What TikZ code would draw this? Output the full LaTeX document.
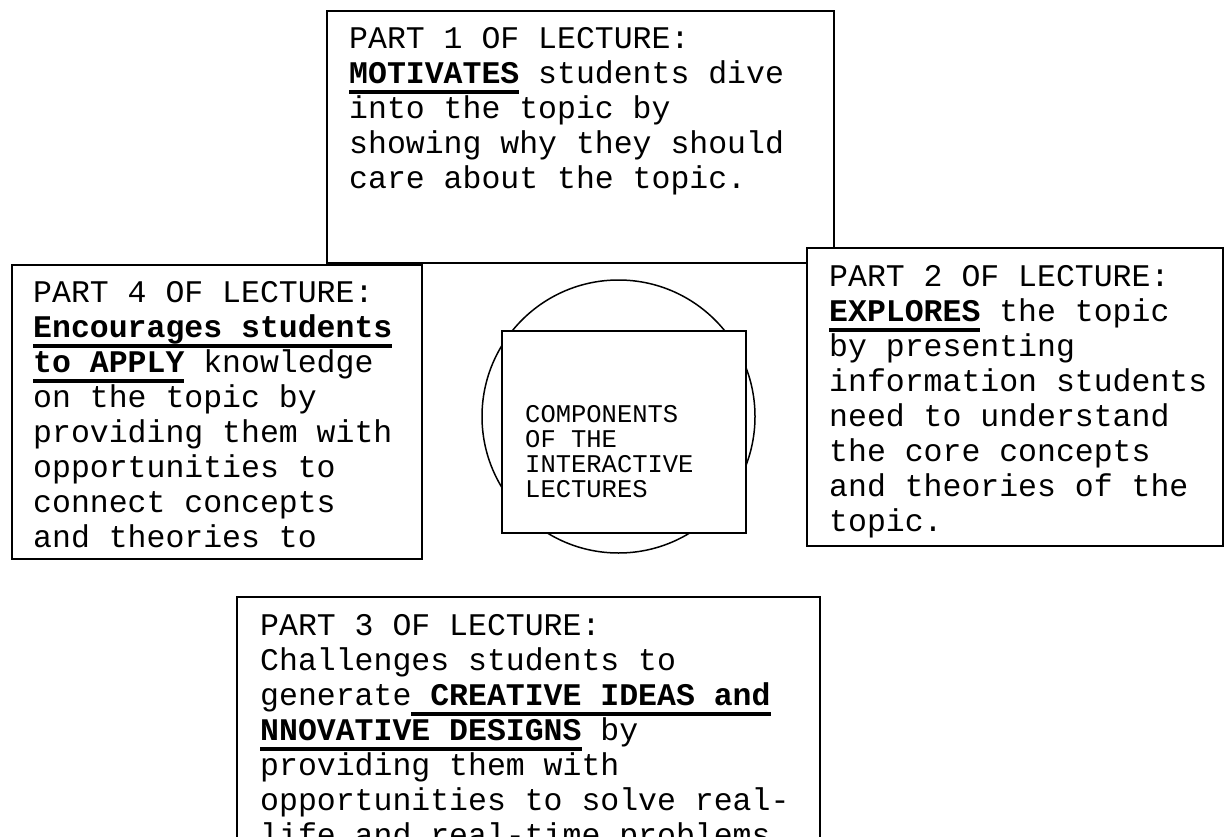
\documentclass[tikz,border=0pt]{standalone}
\usepackage{fontspec}
\setmonofont{Liberation Mono}
\usepackage{tikz}

\newsavebox{\ulbox}
\newcommand{\ulb}[1]{\sbox{\ulbox}{\bfseries #1}\rlap{\smash{\rule[-11pt]{\wd\ulbox}{4pt}}}\usebox{\ulbox}}

\begin{document}
\begin{tikzpicture}[x=1pt,y=-1pt,
  box/.style={draw,line width=1.5pt,fill=white,inner sep=0pt},
  txt/.style={anchor=north west,inner sep=0pt,align=left,font=\ttfamily\fontsize{31.5}{35}\selectfont},
  ctxt/.style={txt,font=\ttfamily\fontsize{25.5}{25}\selectfont}]

\useasboundingbox (0,0) rectangle (1225,837);
\clip (0,0) rectangle (1225,837);

\node[box,minimum width=507pt,minimum height=252pt] (part1) at (580.5,137) {};
\node[txt] (part1text) at (349,27) {PART 1 OF LECTURE:\\
\ulb{MOTIVATES} students dive\\
into the topic by\\
showing why they should\\
care about the topic.};

\node[box,minimum width=410pt,minimum height=294pt] (part4) at (217,412) {};
\node[txt] (part4text) at (33,281) {PART 4 OF LECTURE:\\
\ulb{Encourages students}\\
\ulb{to APPLY} knowledge\\
on the topic by\\
providing them with\\
opportunities to\\
connect concepts\\
and theories to};

\node[circle,draw,line width=1.5pt,inner sep=0pt,minimum size=273pt] (ring) at (618.5,416.5) {};
\node[box,minimum width=244pt,minimum height=202pt] (core) at (624,432) {};
\node[ctxt] (coretext) at (525,405) {COMPONENTS\\
OF THE\\
INTERACTIVE\\
LECTURES};

\node[box,minimum width=416pt,minimum height=298pt] (part2) at (1015,397) {};
\node[txt] (part2text) at (829,265) {PART 2 OF LECTURE:\\
\ulb{EXPLORES} the topic\\
by presenting\\
information students\\
need to understand\\
the core concepts\\
and theories of the\\
topic.};

\node[box,minimum width=583pt,minimum height=303pt] (part3) at (528.5,748.5) {};
\node[txt] (part3text) at (260,614) {PART 3 OF LECTURE:\\
Challenges students to\\
generate\ulb{ CREATIVE IDEAS and}\\
\ulb{NNOVATIVE DESIGNS} by\\
providing them with\\
opportunities to solve real-\\
life and real-time problems};

\end{tikzpicture}
\end{document}
